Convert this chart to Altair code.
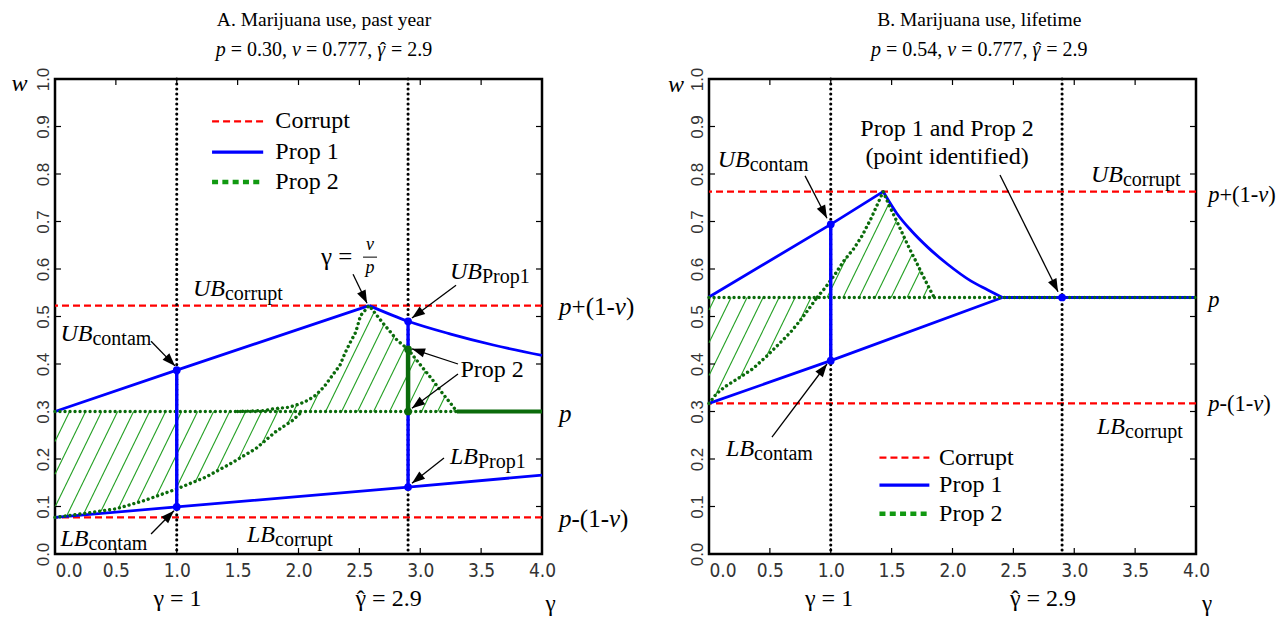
import math
import altair as alt
import numpy as np
import pandas as pd

# ------------------------------------------------------------------ data
X_TICKS = [0.0, 0.5, 1.0, 1.5, 2.0, 2.5, 3.0, 3.5, 4.0]
Y_TICKS = [0.0, 0.1, 0.2, 0.3, 0.4, 0.5, 0.6, 0.7, 0.8, 0.9, 1.0]
MARK_G = [1.0, 2.9]          # gamma = 1 and gamma-hat = 2.9

# Panel A: past year  (p = 0.30, v = 0.777)
A_TITLE = "A. Marijuana use, past year"
A_SUB = [("p", 1), (" = 0.30, ", 0), ("v", 1), (" = 0.777, ", 0), ("γ̂", 1), (" = 2.9", 0)]
A_P = 0.30
A_CORRUPT = [0.523, 0.077]
A_P1U_G = [0.0, 1.0, 2.58]                      # rising, straight
A_P1U_W = [0.30, 0.387, 0.523]
A_P1D_G = [2.58, 2.9, 3.25, 3.6, 4.0]           # falling, curved
A_P1D_W = [0.523, 0.49, 0.463, 0.44, 0.418]
A_P1L_G = [0.0, 1.0, 2.9, 4.0]
A_P1L_W = [0.077, 0.099, 0.141, 0.166]
A_P2L_G = [0.0, 0.23, 0.5, 0.74, 1.0, 1.24, 1.44, 1.65, 1.81, 1.95, 2.03]
A_P2L_W = [0.077, 0.085, 0.095, 0.113, 0.137, 0.162, 0.19, 0.222, 0.257, 0.281, 0.30]
A_P2U_G = [1.5, 1.72, 1.8, 1.92, 2.01, 2.08, 2.14, 2.21, 2.25, 2.29, 2.34, 2.38, 2.42,
           2.47, 2.51, 2.58, 2.62, 2.70, 2.76, 2.81, 2.9, 2.97, 3.02, 3.10, 3.18, 3.25, 3.3]
A_P2U_W = [0.30, 0.302, 0.306, 0.309, 0.316, 0.324, 0.334, 0.352, 0.366, 0.38, 0.397, 0.422, 0.443,
           0.467, 0.502, 0.523, 0.51, 0.484, 0.466, 0.45, 0.431, 0.408, 0.392, 0.367, 0.339, 0.317, 0.30]
A_P2_END = 3.3
A_BLUE_V_G = [1.0, 2.9]
A_BLUE_V_LO = [0.099, 0.141]
A_BLUE_V_HI = [0.387, 0.49]
A_GREEN_V_G = [2.9]
A_GREEN_V_LO = [0.30]
A_GREEN_V_HI = [0.431]
A_BLUE_DOT_G = [1.0, 1.0, 2.9, 2.9]
A_BLUE_DOT_W = [0.387, 0.099, 0.49, 0.141]
A_GREEN_DOT_G = [2.9, 2.9]
A_GREEN_DOT_W = [0.431, 0.30]

# Panel B: lifetime  (p = 0.54, v = 0.777)
B_TITLE = "B. Marijuana use, lifetime"
B_SUB = [("p", 1), (" = 0.54, ", 0), ("v", 1), (" = 0.777, ", 0), ("γ̂", 1), (" = 2.9", 0)]
B_P = 0.54
B_CORRUPT = [0.763, 0.317]
B_P1U_G = [0.0, 1.0, 1.43]
B_P1U_W = [0.541, 0.694, 0.763]
B_P1D_G = [1.43, 1.54, 1.66, 1.80, 1.96, 2.15, 2.29, 2.41]
B_P1D_W = [0.763, 0.718, 0.681, 0.645, 0.610, 0.575, 0.556, 0.54]
B_P1L_G = [0.0, 1.0, 2.41]
B_P1L_W = [0.317, 0.407, 0.54]
B_P1ID_G = [2.41, 4.0]
B_P2L_G = [0.0, 0.06, 0.13, 0.26, 0.36, 0.48, 0.59, 0.67, 0.76, 0.82, 0.89]
B_P2L_W = [0.317, 0.337, 0.352, 0.373, 0.39, 0.418, 0.446, 0.467, 0.495, 0.516, 0.541]
B_P2U_G = [0.89, 0.95, 1.03, 1.11, 1.19, 1.26, 1.33, 1.38, 1.43,
           1.48, 1.54, 1.59, 1.645, 1.70, 1.755, 1.81, 1.85]
B_P2U_W = [0.541, 0.559, 0.587, 0.618, 0.643, 0.671, 0.706, 0.734, 0.763,
           0.734, 0.702, 0.674, 0.644, 0.616, 0.587, 0.559, 0.54]
B_BLUE_V_G = [1.0]
B_BLUE_V_LO = [0.407]
B_BLUE_V_HI = [0.694]
B_BLUE_DOT_G = [1.0, 1.0, 2.9]
B_BLUE_DOT_W = [0.694, 0.407, 0.54]

# ------------------------------------------------------------------ style / layout
W, H = 487, 475
GMAX = 4.0
PXG = W / GMAX      # pixels per unit of gamma
PXW = H / 1.0       # pixels per unit of w
SERIF = "Liberation Serif"
BLUE, RED, GREEN, HATCH = "#0000ff", "#ff0000", "#0b6b0b", "#23a023"
XS = alt.Scale(domain=[0, GMAX], nice=False, zero=False)
YS = alt.Scale(domain=[0, 1], nice=False, zero=False)

XAX = alt.Axis(values=X_TICKS, format=".1f", grid=False, domain=False, ticks=False,
               labelFont="Liberation Sans Narrow, DejaVu Sans Condensed, sans-serif",
               labelFontSize=19, labelColor="#333333", labelPadding=7,
               labelFlush=False, labelOverlap=False, labelBound=False,
               labelAlign={"condition": {"test": "datum.value == 0", "value": "left"}, "value": "center"})
YAX = alt.Axis(values=Y_TICKS, format=".1f", grid=False, domain=False, ticks=False,
               labelFont="Liberation Sans, sans-serif", labelFontSize=17, labelColor="#333333",
               labelAngle=270, labelAlign="center", labelBaseline="bottom", labelPadding=3,
               labelFlush=False, labelOverlap=False)


def X(f="g"):
    return alt.X(f"{f}:Q", scale=XS, axis=XAX, title=None)


def Y(f="w"):
    return alt.Y(f"{f}:Q", scale=YS, axis=YAX, title=None)


ROMAN = dict(zip("abcdefghijklmnopqrstuvwxyz",
                 [.444, .5, .444, .5, .444, .333, .5, .5, .278, .278, .5, .278, .778, .5, .5, .5, .5,
                  .333, .389, .278, .5, .5, .722, .5, .5, .444]))
ROMAN.update({"P": .556, " ": .25, ".": .25, ",": .25, "=": .564, "+": .564, "(": .333, ")": .333,
              "-": .333, "γ": .44, "ˆ": .333})
ROMAN.update({d: .5 for d in "0123456789"})
ITALIC = {"U": .722, "B": .611, "L": .556, "p": .5, "v": .444, "w": .667, "γ": .44, "ˆ": .333}


def twidth(t, it, size):
    tab = ITALIC if it else ROMAN
    return sum(tab.get(ch, .5) for ch in t) * size


def compose(g, w, parts, anchor="left"):
    """parts: (text, italic, size, dy_px). Lays pieces out left to right as text rows."""
    parts = [(t.replace("\u0302", ""), it, s, dy, "\u0302" in t) for t, it, s, dy in parts]
    total = sum(twidth(t, it, s) for t, it, s, _, _ in parts)
    off = -total / 2 if anchor == "center" else 0.0
    rows = []
    for t, it, s, dy, hat in parts:
        wid = twidth(t, it, s)
        core = t.strip()
        lead = len(t) - len(t.lstrip())
        x0 = off + twidth(t[:lead], it, s)
        rows.append(dict(g=g + x0 / PXG, w=w - dy / PXW, t=core, size=s, it=it))
        if hat:
            hx = x0 + twidth(core, it, s) / 2 - twidth("ˆ", 0, s) / 2 + (0.06 * s if it else 0)
            rows.append(dict(g=g + hx / PXG, w=w - (dy + 0.05 * s) / PXW, t="ˆ", size=s, it=0))
        off += wid
    return rows


def bound(g, w, main, sub):
    return compose(g, w, [(main, 1, 24, 0), (sub, 0, 20, 5)])


def plabels(g, ws, s):
    rows = []
    rows += compose(g, ws[0], [("p", 1, s, 0), ("+(1-", 0, s, 0), ("v", 1, s, 0), (")", 0, s, 0)])
    rows += compose(g, ws[1], [("p", 1, s, 0)])
    rows += compose(g, ws[2], [("p", 1, s, 0), ("-(1-", 0, s, 0), ("v", 1, s, 0), (")", 0, s, 0)])
    return rows


def hatch_rows(lows, highs, p, gmax, slope=2.05, spacing_px=16.0, phase=0.12):
    k = PXW / (slope * PXG)
    step = spacing_px / PXG
    ws = np.linspace(0, 1, 4001)
    rows = []
    c = phase - k * p
    while c > -k:
        c -= step
    while c < gmax:
        gs = c + k * ws
        lo = np.full_like(ws, p)
        hi = np.full_like(ws, p)
        for cg, cw in lows:
            m = (gs >= cg[0]) & (gs <= cg[-1])
            lo = np.where(m, np.minimum(lo, np.interp(gs, cg, cw)), lo)
        for cg, cw in highs:
            m = (gs >= cg[0]) & (gs <= cg[-1])
            hi = np.where(m, np.maximum(hi, np.interp(gs, cg, cw)), hi)
        inside = (gs >= 0) & (gs <= gmax) & (ws >= lo) & (ws <= hi) & (hi - lo > 1e-4)
        idx = np.flatnonzero(inside)
        if idx.size:
            for s in np.split(idx, np.flatnonzero(np.diff(idx) > 1) + 1):
                if len(s) > 2:
                    rows.append(dict(g=gs[s[0]], w=ws[s[0]], g2=gs[s[-1]], w2=ws[s[-1]]))
        c += step
    return rows


def arrow_rows(arrows):
    rows = []
    for (g0, w0, g1, w1) in arrows:
        dx = (g1 - g0) * PXG
        dy = -(w1 - w0) * PXW
        ang = math.degrees(math.atan2(dx, -dy)) % 360
        rows.append(dict(g=g0, w=w0, g2=g1, w2=w1, ang=ang))
    return rows


def series(name, gs, ws):
    return [dict(s=name, i=i, g=a, w=b) for i, (a, b) in enumerate(zip(gs, ws))]


def panel(d):
    L = []
    # hatch of Prop 2 region
    L.append(alt.Chart(pd.DataFrame(d["hatch"])).mark_rule(color=HATCH, strokeWidth=1.1).encode(
        x=X("g"), y=Y("w"), x2="g2", y2="w2"))
    # inward ticks
    tx = pd.DataFrame(dict(g=X_TICKS[1:-1]))
    ty = pd.DataFrame(dict(w=Y_TICKS[1:-1]))
    L.append(alt.Chart(tx).mark_rule(color="black", strokeWidth=1.2).encode(
        x=X("g"), y=alt.value(H), y2=alt.value(H - 6)))
    L.append(alt.Chart(tx).mark_rule(color="black", strokeWidth=1.2).encode(
        x=X("g"), y=alt.value(0), y2=alt.value(6)))
    L.append(alt.Chart(ty).mark_rule(color="black", strokeWidth=1.2).encode(
        y=Y("w"), x=alt.value(0), x2=alt.value(6)))
    L.append(alt.Chart(ty).mark_rule(color="black", strokeWidth=1.2).encode(
        y=Y("w"), x=alt.value(W), x2=alt.value(W - 6)))
    # corrupt bounds
    L.append(alt.Chart(pd.DataFrame(dict(w=d["corrupt"]))).mark_rule(
        color=RED, strokeWidth=2.2, strokeDash=[7, 4]).encode(y=Y("w")))
    # gamma = 1, gamma-hat
    L.append(alt.Chart(pd.DataFrame(dict(g=MARK_G))).mark_rule(
        color="black", strokeWidth=3.1, strokeDash=[0.01, 5], strokeCap="round").encode(x=X("g")))
    # identified Prop 1 segment (under the Prop 2 dots)
    if d["p1under"]:
        L.append(alt.Chart(pd.DataFrame(d["p1under"])).mark_line(
            color=BLUE, strokeWidth=2.8).encode(x=X("g"), y=Y("w"), detail="s:N", order="i:Q"))
    # Prop 1 curves
    L.append(alt.Chart(pd.DataFrame(d["p1lines"])).mark_line(
        color=BLUE, strokeWidth=2.8).encode(x=X("g"), y=Y("w"), detail="s:N", order="i:Q"))
    L.append(alt.Chart(pd.DataFrame(d["p1curve"])).mark_line(
        color=BLUE, strokeWidth=2.8, interpolate="monotone").encode(
        x=X("g"), y=Y("w"), detail="s:N", order="i:Q"))
    # Prop 2 p-line (dotted)
    L.append(alt.Chart(pd.DataFrame(dict(g=[0.0], g2=[d["p2end"]], w=[d["p"]]))).mark_rule(
        color=GREEN, strokeWidth=3.4, strokeDash=[0.01, 5], strokeCap="round").encode(
        x=X("g"), x2="g2", y=Y("w")))
    # Prop 2 curves (dotted)
    L.append(alt.Chart(pd.DataFrame(d["p2curves"])).mark_line(
        color=GREEN, strokeWidth=3.4, strokeDash=[0.01, 5], strokeCap="round").encode(
        x=X("g"), y=Y("w"), detail="s:N", order="i:Q"))
    L.append(alt.Chart(pd.DataFrame(d["bluev"])).mark_rule(color=BLUE, strokeWidth=3.4).encode(
        x=X("g"), y=Y("w"), y2="w2"))
    if d["greenv"]:
        L.append(alt.Chart(pd.DataFrame(d["greenv"])).mark_rule(color=GREEN, strokeWidth=4.5).encode(
            x=X("g"), y=Y("w"), y2="w2"))
    if d["p2end"] < GMAX:
        L.append(alt.Chart(pd.DataFrame(dict(g=[d["p2end"]], g2=[GMAX], w=[d["p"]]))).mark_rule(
            color=GREEN, strokeWidth=4).encode(x=X("g"), x2="g2", y=Y("w")))
    if d["bluedots"]:
        L.append(alt.Chart(pd.DataFrame(d["bluedots"])).mark_point(
            filled=True, color=BLUE, opacity=1, size=60, shape="circle").encode(x=X("g"), y=Y("w")))
    if d["greendots"]:
        L.append(alt.Chart(pd.DataFrame(d["greendots"])).mark_point(
            filled=True, color=GREEN, opacity=1, size=60, shape="circle").encode(x=X("g"), y=Y("w")))
    # arrows
    ar = pd.DataFrame(arrow_rows(d["arrows"]))
    L.append(alt.Chart(ar).mark_rule(color="black", strokeWidth=1.3).encode(
        x=X("g"), y=Y("w"), x2="g2", y2="w2"))
    L.append(alt.Chart(ar).mark_point(shape="M0,0L-0.36,1L0.36,1Z", filled=True, color="black",
                                      opacity=1, size=680).encode(
        x=X("g2"), y=Y("w2"), angle=alt.Angle("ang:Q", scale=None)))
    # legend
    lg = d["legend"]
    g0, g1, gt = lg["g"]
    lw = lg["w"]
    L.append(alt.Chart(pd.DataFrame(dict(g=[g0], g2=[g1], w=[lw[0]]))).mark_rule(
        color=RED, strokeWidth=2.2, strokeDash=[7, 4]).encode(x=X("g"), x2="g2", y=Y("w")))
    L.append(alt.Chart(pd.DataFrame(dict(g=[g0], g2=[g1], w=[lw[1]]))).mark_rule(
        color=BLUE, strokeWidth=3.4).encode(x=X("g"), x2="g2", y=Y("w")))
    L.append(alt.Chart(pd.DataFrame(dict(g=[g0], g2=[g1], w=[lw[2]]))).mark_rule(
        color="#119911", strokeWidth=4.5, strokeDash=[6, 4.3]).encode(x=X("g"), x2="g2", y=Y("w")))
    # fraction bar (gamma = v/p)
    if d.get("fracbar"):
        fb = d["fracbar"]
        L.append(alt.Chart(pd.DataFrame(dict(g=[fb[0]], g2=[fb[1]], w=[fb[2]]))).mark_rule(
            color="black", strokeWidth=1).encode(x=X("g"), x2="g2", y=Y("w")))
    # texts
    rows = d["texts"] + [dict(g=gt, w=ww, t=t, size=24, it=0)
                         for ww, t in zip(lw, ["Corrupt", "Prop 1", "Prop 2"])]
    tdf = pd.DataFrame(rows)
    for it, style in [(0, "normal"), (1, "italic")]:
        sub = tdf[tdf["it"] == it]
        if len(sub):
            L.append(alt.Chart(sub).mark_text(font=SERIF, fontStyle=style, align="left",
                                              baseline="middle", color="black").encode(
                x=X("g"), y=Y("w"), text="t:N", size=alt.Size("size:Q", scale=None)))
    cdf = pd.DataFrame(d["ctexts"])
    L.append(alt.Chart(cdf).mark_text(font=SERIF, align="center", baseline="middle",
                                      color="black").encode(
        x=X("g"), y=Y("w"), text="t:N", size=alt.Size("size:Q", scale=None)))
    return alt.layer(*L).properties(width=W, height=H)


def vrows(gs, lo, hi):
    return [dict(g=a, w=b, w2=c) for a, b, c in zip(gs, lo, hi)]


def prows(gs, ws):
    return [dict(g=a, w=b) for a, b in zip(gs, ws)]


def bottom(g1, ghat, ggam):
    return (compose(g1, -0.094, [("γ = 1", 0, 24, 0)], anchor="center")
            + compose(ghat, -0.094, [("γ̂", 0, 24, 0), (" = 2.9", 0, 24, 0)], anchor="center")
            + compose(ggam, -0.106, [("γ", 0, 23, 0)], anchor="center"))


def subtitle(g, parts):
    return compose(g, 1.062, [(t, it, 20, 0) for t, it in parts], anchor="center")


# ---------------- panel A
A = dict(
    p=A_P, corrupt=A_CORRUPT, p2end=A_P2_END,
    hatch=hatch_rows([(A_P2L_G, A_P2L_W)], [(A_P2U_G, A_P2U_W)], A_P, A_P2_END, phase=0.12),
    p1under=[],
    p1lines=series("u", A_P1U_G, A_P1U_W) + series("l", A_P1L_G, A_P1L_W),
    p1curve=series("d", A_P1D_G, A_P1D_W),
    p2curves=series("a", A_P2L_G, A_P2L_W) + series("b", A_P2U_G, A_P2U_W),
    bluev=vrows(A_BLUE_V_G, A_BLUE_V_LO, A_BLUE_V_HI),
    greenv=vrows(A_GREEN_V_G, A_GREEN_V_LO, A_GREEN_V_HI),
    bluedots=prows(A_BLUE_DOT_G, A_BLUE_DOT_W),
    greendots=prows(A_GREEN_DOT_G, A_GREEN_DOT_W),
    arrows=[(2.448, 0.589, 2.563, 0.528), (3.294, 0.566, 2.932, 0.497), (0.789, 0.448, 0.986, 0.396),
            (3.31, 0.40, 2.932, 0.432), (3.31, 0.379, 2.932, 0.307), (3.195, 0.202, 2.932, 0.149),
            (0.789, 0.042, 0.977, 0.091)],
    legend=dict(g=(1.29, 1.71, 1.81), w=(0.911, 0.846, 0.783)),
    fracbar=(2.53, 2.645, 0.625),
    texts=(bound(1.133, 0.558, "UB", "corrupt") + bound(3.244, 0.594, "UB", "Prop1")
           + bound(0.045, 0.463, "UB", "contam") + bound(3.244, 0.204, "LB", "Prop1")
           + bound(0.045, 0.032, "LB", "contam") + bound(1.577, 0.040, "LB", "corrupt")
           + compose(3.33, 0.387, [("Prop 2", 0, 24, 0)])
           + plabels(4.14, [0.52, 0.295, 0.074], 25)
           + compose(-0.357, 0.99, [("w", 1, 24, 0)])
           + subtitle(2.21, A_SUB)
           + compose(2.185, 0.625, [("γ =", 0, 25, 0)])
           + compose(2.587, 0.651, [("v", 1, 18, 0)], anchor="center")
           + compose(2.587, 0.602, [("p", 1, 18, 0)], anchor="center")
           + bottom(1.006, 2.74, 4.07)),
    ctexts=[dict(g=2.21, w=1.124, t=A_TITLE, size=19.5)],
)

# ---------------- panel B
B = dict(
    p=B_P, corrupt=B_CORRUPT, p2end=GMAX,
    hatch=hatch_rows([(B_P2L_G, B_P2L_W)], [(B_P2U_G, B_P2U_W)], B_P, 1.85, phase=0.05),
    p1under=series("id", B_P1ID_G, [B_P, B_P]),
    p1lines=series("u", B_P1U_G, B_P1U_W) + series("l", B_P1L_G, B_P1L_W),
    p1curve=series("d", B_P1D_G, B_P1D_W),
    p2curves=series("a", B_P2L_G, B_P2L_W) + series("b", B_P2U_G, B_P2U_W),
    bluev=vrows(B_BLUE_V_G, B_BLUE_V_LO, B_BLUE_V_HI),
    greenv=[],
    bluedots=prows(B_BLUE_DOT_G, B_BLUE_DOT_W),
    greendots=[],
    arrows=[(2.39, 0.798, 2.867, 0.552), (0.789, 0.796, 0.969, 0.707), (0.517, 0.246, 0.969, 0.40)],
    legend=dict(g=(1.40, 1.81, 1.89), w=(0.203, 0.145, 0.085)),
    texts=(bound(3.137, 0.798, "UB", "corrupt") + bound(0.071, 0.829, "UB", "contam")
           + bound(0.14, 0.221, "LB", "contam") + bound(3.187, 0.267, "LB", "corrupt")
           + plabels(4.10, [0.756, 0.535, 0.316], 22.5)
           + compose(-0.337, 0.987, [("w", 1, 24, 0)])
           + subtitle(2.22, B_SUB)
           + bottom(0.986, 2.743, 4.09)),
    ctexts=[dict(g=2.22, w=1.124, t=B_TITLE, size=19.5),
            dict(g=1.955, w=0.895, t="Prop 1 and Prop 2", size=24),
            dict(g=1.955, w=0.836, t="(point identified)", size=24)],
)

chart = alt.hconcat(panel(A), panel(B), spacing=167, bounds="flush").properties(
    padding={"left": 2, "top": 0, "right": 1, "bottom": 0}
).configure_view(stroke="black", strokeWidth=2.5)

chart.save("out.html", embed_options={"renderer": "svg", "actions": False})
